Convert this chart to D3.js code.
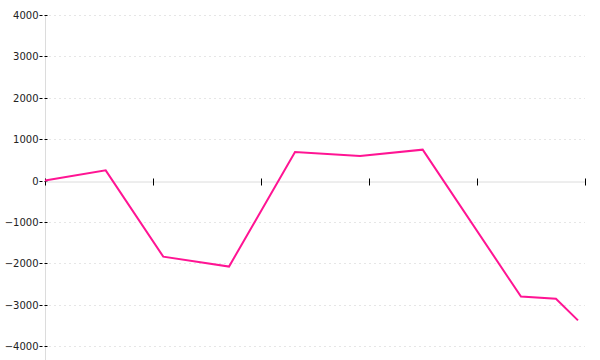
<!DOCTYPE html>
<html>
<head>
<meta charset="utf-8">
<script src="https://cdn.jsdelivr.net/npm/d3@7"></script>
<style>
  html, body { margin: 0; padding: 0; background: #fff; }
  svg { display: block; }
</style>
</head>
<body>
<svg id="chart" width="600" height="360"></svg>
<script>
// Data
const xValues = [0, 0.562, 1.095, 1.704, 2.315, 2.917, 3.497, 4.407, 4.731, 4.935];
const yValues = [0, 246, -1840, -2080, 690, 590, 745, -2805, -2860, -3380];
const yTicks = [-4000, -3000, -2000, -1000, 0, 1000, 2000, 3000, 4000];
const xTicks = [0, 1, 2, 3, 4, 5];

const svg = d3.select("#chart");
const margin = { left: 45, right: 15, top: 15, bottom: 14 };
const W = 600, H = 360;

const x = d3.scaleLinear().domain([0, 5]).range([margin.left, W - margin.right]);
const y = d3.scaleLinear().domain([-4000, 4000]).range([H - margin.bottom, margin.top]);

// Grid lines
svg.append("g").selectAll("line")
  .data(yTicks.filter(d => d !== 0))
  .join("line")
  .attr("x1", margin.left + 4).attr("x2", x(5))
  .attr("y1", d => Math.round(y(d)) + 0.5).attr("y2", d => Math.round(y(d)) + 0.5)
  .attr("stroke", "#e6e6e6")
  .attr("stroke-dasharray", "2,3");

// Y axis
const yAxis = svg.append("g")
  .attr("transform", `translate(${margin.left + 0.5},0)`)
  .call(d3.axisLeft(y).tickValues(yTicks).tickSize(5).tickSizeOuter(0).tickFormat(d3.format("d")));
yAxis.select(".domain").attr("stroke", "#dcdcdc").attr("d", `M0,${margin.top}V${H}`);
yAxis.selectAll(".tick line").attr("x2", 3).attr("x1", -6).attr("stroke", "#000").attr("stroke-dasharray", "3,2");
yAxis.selectAll(".tick text")
  .attr("x", -7)
  .attr("fill", "#222")
  .style("font-family", "DejaVu Sans, Verdana, sans-serif")
  .style("font-size", "10px");
yAxis.selectAll(".tick").attr("transform", d => `translate(0,${Math.round(y(d)) + 0.5})`);

// X axis (at zero)
const xAxis = svg.append("g")
  .attr("transform", `translate(0,${Math.round(y(0)) + 0.5})`)
  .call(d3.axisBottom(x).tickValues(xTicks).tickSize(4).tickSizeOuter(0).tickFormat(""));
xAxis.select(".domain").attr("stroke", "#dcdcdc");
xAxis.selectAll(".tick line").attr("y1", -3).attr("y2", 4).attr("stroke", "#000");
xAxis.selectAll(".tick").attr("transform", d => `translate(${Math.round(x(d)) + 0.5},0)`);

// Line
const line = d3.line().x((d, i) => x(xValues[i])).y(d => y(d));
svg.append("path")
  .datum(yValues)
  .attr("d", line)
  .attr("fill", "none")
  .attr("stroke", "#ff1493")
  .attr("stroke-width", 2);
</script>
</body>
</html>
